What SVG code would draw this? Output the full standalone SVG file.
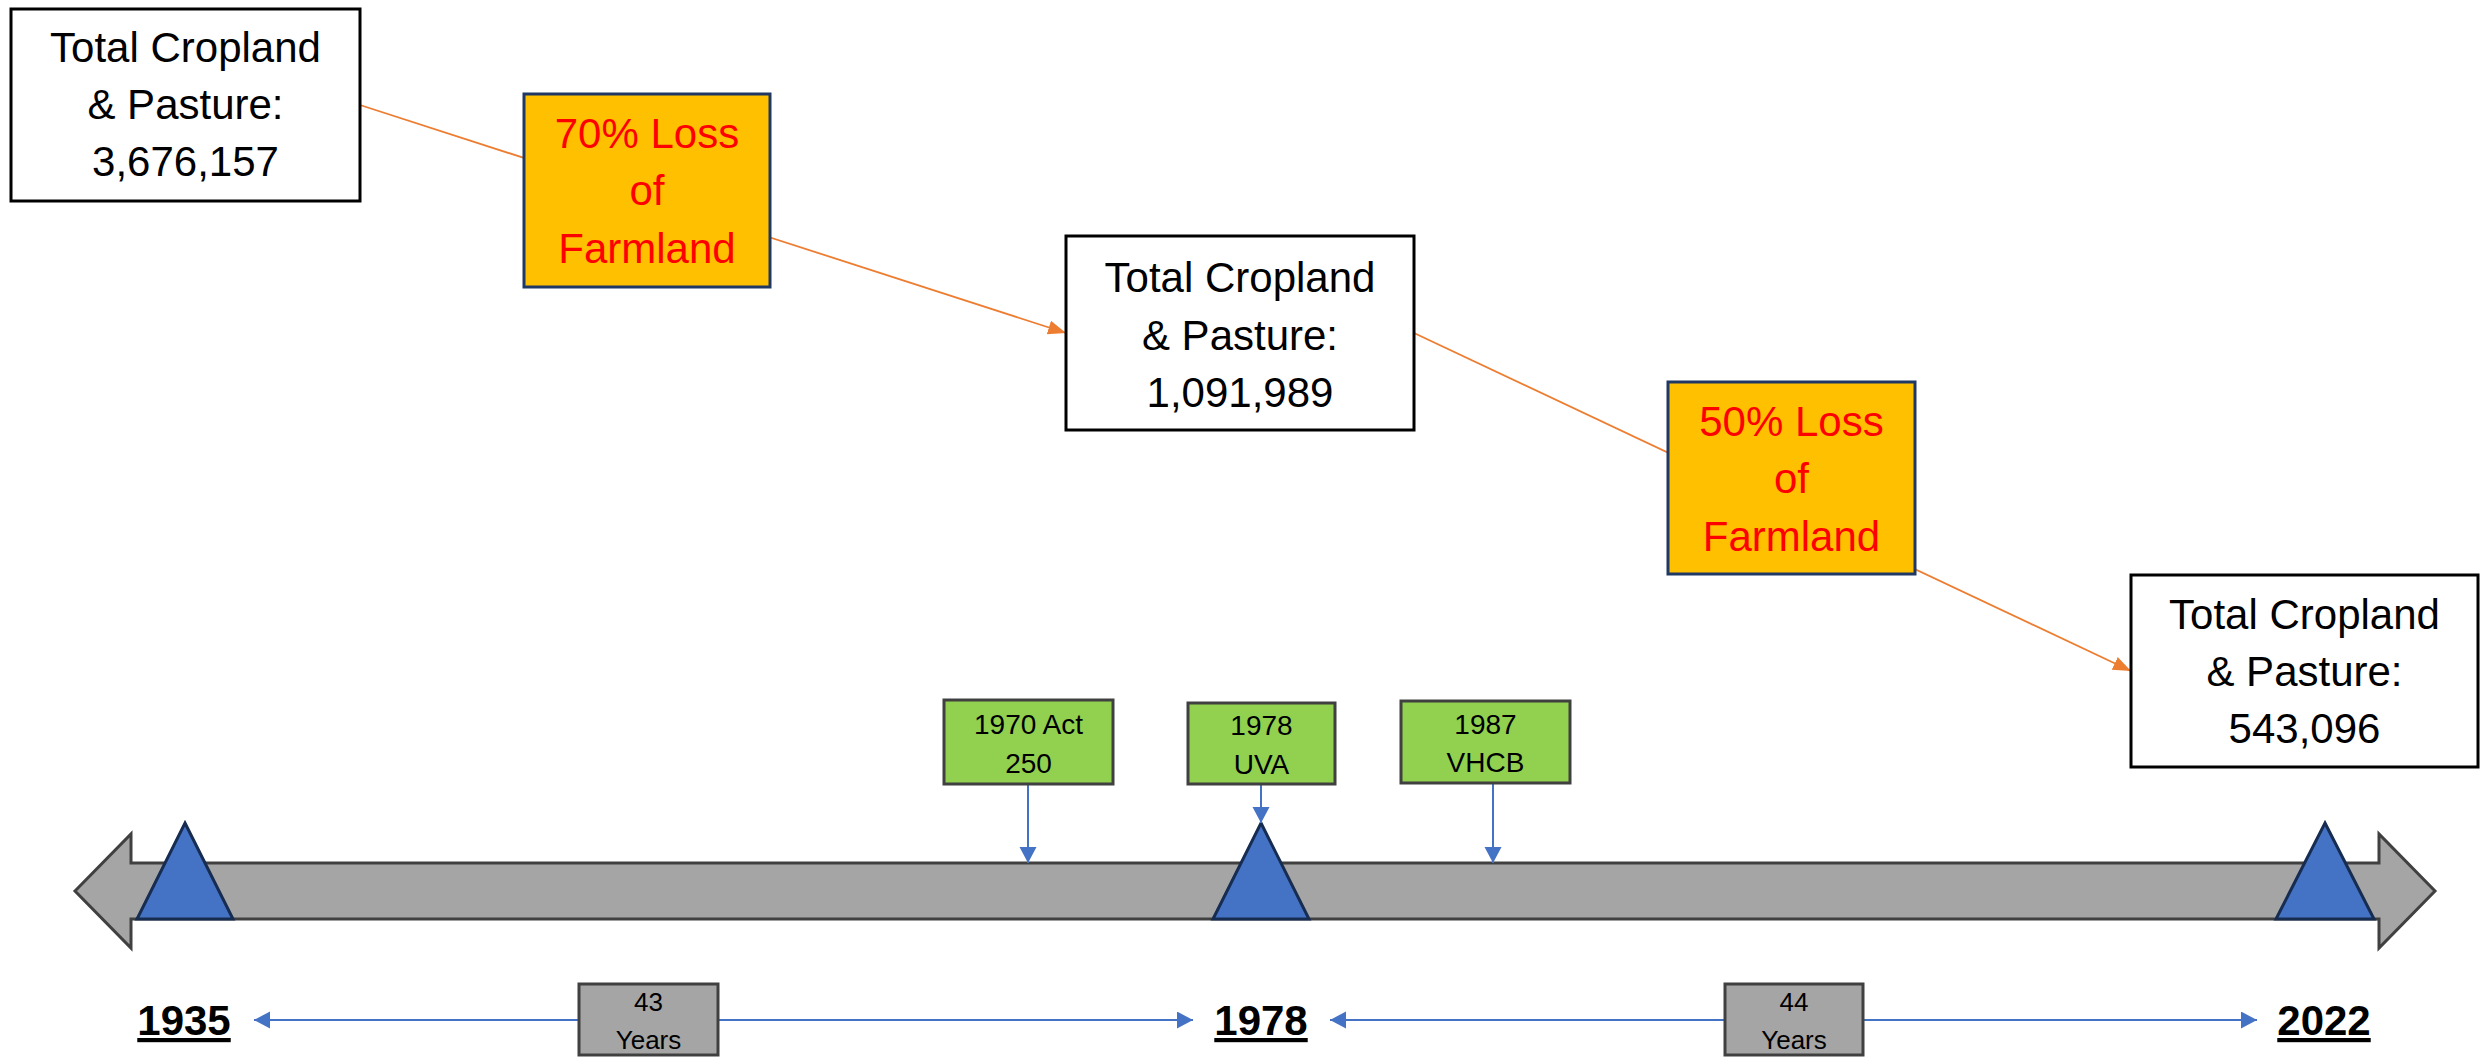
<svg xmlns="http://www.w3.org/2000/svg" width="2484" height="1058" viewBox="0 0 2484 1058">
<style>
text{font-family:"Liberation Sans",Arial,sans-serif;text-anchor:middle}
.big{font-size:42px;fill:#000}
.red{font-size:42px;fill:#FF0000}
.sm{font-size:28px;fill:#000}
.yr{font-size:26px;fill:#000}
.year{font-size:42px;font-weight:bold;fill:#000;text-decoration:underline}
.wbox{fill:#fff;stroke:#000;stroke-width:3}
.obox{fill:#FFC000;stroke:#1F3864;stroke-width:3}
.gbox{fill:#92D050;stroke:#404040;stroke-width:3}
.gray{fill:#A5A5A5;stroke:#404040;stroke-width:3}
.tri{fill:#4472C4;stroke:#172C51;stroke-width:3;stroke-linejoin:miter}
.oc{stroke:#ED7D31;stroke-width:1.8;fill:none}
.bc{stroke:#4472C4;stroke-width:2;fill:none}
</style>
<defs>
<marker id="arrO" markerUnits="userSpaceOnUse" markerWidth="20" markerHeight="16" refX="18" refY="7" orient="auto"><path d="M0,0 L18,7 L0,14 z" fill="#ED7D31"/></marker>
<marker id="arrB" markerUnits="userSpaceOnUse" markerWidth="18" markerHeight="18" refX="16" refY="8.5" orient="auto-start-reverse"><path d="M0,0 L16,8.5 L0,17 z" fill="#4472C4"/></marker>
</defs>

<g id="timeline-bar">
<path class="gray" d="M75,891 L131,834 L131,863 L2379,863 L2379,834 L2435,891 L2379,948 L2379,919 L131,919 L131,948 Z"/>
</g>
<g id="marker-1935"><path class="tri" d="M185,823 L233,919 L137,919 Z"/></g>
<g id="marker-1978"><path class="tri" d="M1261,823 L1309,919 L1213,919 Z"/></g>
<g id="marker-2022"><path class="tri" d="M2325,823 L2374,919 L2276,919 Z"/></g>

<g id="connectors">
<line class="oc" x1="360" y1="105" x2="1066" y2="333" marker-end="url(#arrO)"/>
<line class="oc" x1="1414" y1="333" x2="2131" y2="671" marker-end="url(#arrO)"/>
<line class="bc" x1="1028" y1="784" x2="1028" y2="863" marker-end="url(#arrB)"/>
<line class="bc" x1="1261" y1="784" x2="1261" y2="823" marker-end="url(#arrB)"/>
<line class="bc" x1="1493" y1="783" x2="1493" y2="863" marker-end="url(#arrB)"/>
<line class="bc" x1="254" y1="1020" x2="1193" y2="1020" marker-start="url(#arrB)" marker-end="url(#arrB)"/>
<line class="bc" x1="1330" y1="1020" x2="2257" y2="1020" marker-start="url(#arrB)" marker-end="url(#arrB)"/>
</g>

<g id="total-1935">
<rect class="wbox" x="11" y="9" width="349" height="192"/>
<text class="big" x="185.5" y="62">Total Cropland</text>
<text class="big" x="185.5" y="119">&amp; Pasture:</text>
<text class="big" x="185.5" y="176">3,676,157</text>
</g>
<g id="loss-70">
<rect class="obox" x="524" y="94" width="246" height="193"/>
<text class="red" x="647" y="148">70% Loss</text>
<text class="red" x="647" y="205">of</text>
<text class="red" x="647" y="263">Farmland</text>
</g>
<g id="total-1978">
<rect class="wbox" x="1066" y="236" width="348" height="194"/>
<text class="big" x="1240" y="292">Total Cropland</text>
<text class="big" x="1240" y="350">&amp; Pasture:</text>
<text class="big" x="1240" y="407">1,091,989</text>
</g>
<g id="loss-50">
<rect class="obox" x="1668" y="382" width="247" height="192"/>
<text class="red" x="1791.5" y="436">50% Loss</text>
<text class="red" x="1791.5" y="493">of</text>
<text class="red" x="1791.5" y="551">Farmland</text>
</g>
<g id="total-2022">
<rect class="wbox" x="2131" y="575" width="347" height="192"/>
<text class="big" x="2304.5" y="629">Total Cropland</text>
<text class="big" x="2304.5" y="686">&amp; Pasture:</text>
<text class="big" x="2304.5" y="743">543,096</text>
</g>

<g id="event-1970">
<rect class="gbox" x="944" y="700" width="169" height="84"/>
<text class="sm" x="1028.5" y="734">1970 Act</text>
<text class="sm" x="1028.5" y="773">250</text>
</g>
<g id="event-1978">
<rect class="gbox" x="1188" y="703" width="147" height="81"/>
<text class="sm" x="1261.5" y="735">1978</text>
<text class="sm" x="1261.5" y="774">UVA</text>
</g>
<g id="event-1987">
<rect class="gbox" x="1401" y="701" width="169" height="82"/>
<text class="sm" x="1485.5" y="734">1987</text>
<text class="sm" x="1485.5" y="772">VHCB</text>
</g>

<g id="year-1935"><text class="year" x="184" y="1035">1935</text></g>
<g id="year-1978"><text class="year" x="1261" y="1035">1978</text></g>
<g id="year-2022"><text class="year" x="2324" y="1035">2022</text></g>

<g id="span-43">
<rect class="gray" x="579" y="984" width="139" height="71"/>
<text class="yr" x="648.5" y="1011">43</text>
<text class="yr" x="648.5" y="1049">Years</text>
</g>
<g id="span-44">
<rect class="gray" x="1725" y="984" width="138" height="71"/>
<text class="yr" x="1794" y="1011">44</text>
<text class="yr" x="1794" y="1049">Years</text>
</g>
</svg>
